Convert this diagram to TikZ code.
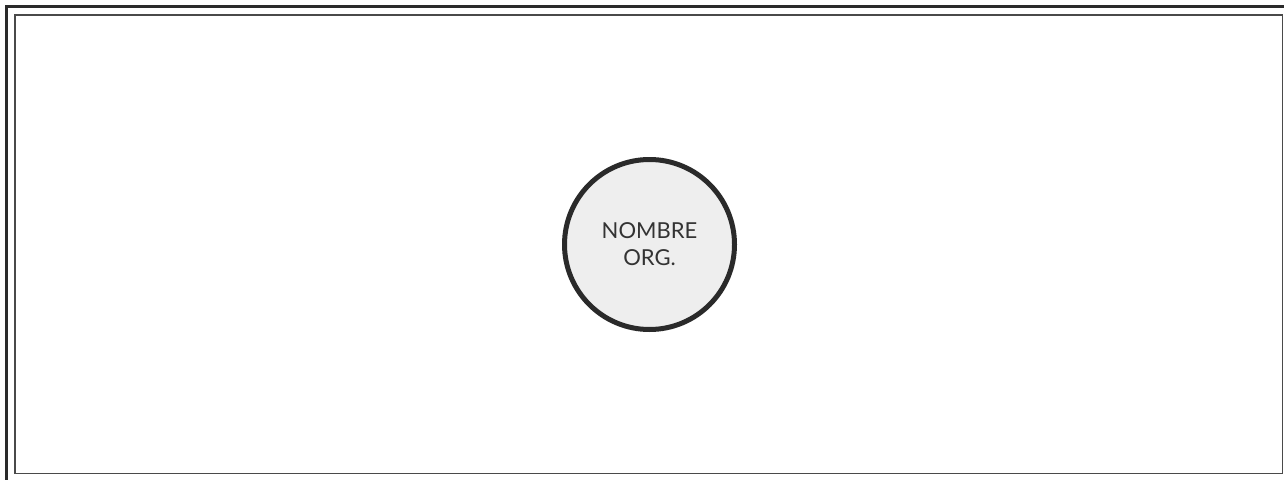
\documentclass[tikz,border=0pt]{standalone}
\usepackage{fontspec}
\setmainfont{Lato}
\usepackage{tikz}
\definecolor{framedark}{HTML}{2A2A2A}
\definecolor{framegrey}{HTML}{4A4A4A}
\definecolor{orgfill}{HTML}{EEEEEE}
\definecolor{orgtext}{HTML}{333333}

\begin{document}
\begin{tikzpicture}[x=1pt, y=-1pt, font=\fontsize{22}{27}\selectfont]
    \useasboundingbox (0,0) rectangle (1284,479);
    \clip (0,0) rectangle (1284,479);
    \draw[line width=3pt, framedark] (6.5,6) rectangle (1300,500);
    \draw[line width=1.5pt, framegrey] (14.75,15) rectangle (1282.5,473.5);

    \node (org) [draw=framedark, line width=5pt, circle, fill=orgfill,
        text=orgtext, align=center, inner sep=0pt, minimum size=170pt]
        at (649.5,244.5) {NOMBRE\\ORG.};
\end{tikzpicture}
\end{document}
